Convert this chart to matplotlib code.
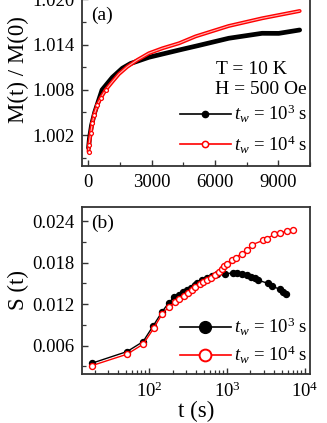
import matplotlib
matplotlib.use("Agg")
import matplotlib.pyplot as plt
from matplotlib.ticker import MultipleLocator, LogLocator, NullFormatter, FuncFormatter

plt.rcParams['font.family'] = ['Liberation Serif', 'DejaVu Serif']
plt.rcParams['mathtext.fontset'] = 'custom'
plt.rcParams['mathtext.rm'] = 'Liberation Serif'
plt.rcParams['mathtext.it'] = 'Liberation Serif:italic'

# ---- panel (a): M(t)/M(0) vs t ----
ta_1e3 = [10, 50, 150, 300, 650, 1140, 1610, 2000, 2870, 3660, 4450, 5160,
          6650, 8230, 9020, 10010]
Ma_1e3 = [1.0003, 1.0015, 1.0033, 1.0050, 1.0080, 1.00967, 1.01087, 1.0115,
          1.01233, 1.01286, 1.01339, 1.01385, 1.01485, 1.01551, 1.0155, 1.01595]
ta_1e4 = [10, 30, 110, 190, 270, 430, 580, 820, 1140, 1450, 1850, 2320, 2870,
          3510, 4300, 5080, 6650, 8230, 10010]
Ma_1e4 = [0.9998, 1.00069, 1.00224, 1.00357, 1.00467, 1.0060, 1.00689, 1.00799,
          1.00909, 1.01011, 1.01108, 1.01197, 1.01286, 1.01352, 1.01419, 1.0151,
          1.01648, 1.0175, 1.01847]

# ---- panel (b): S(t) vs t ----
tb_1e3 = [18.6, 52.2, 83.8, 112.6, 146.8, 178.9, 207.4, 240.4, 270.4, 307, 345,
          392, 409, 474, 550, 637, 738, 943, 1205, 1331, 1542, 1789, 2031, 2285,
          2518, 3383, 3738, 4775, 5268, 5702]
Sb_1e3 = [0.00347, 0.00514, 0.00658, 0.00883, 0.01089, 0.01219, 0.01296, 0.01334,
          0.01373, 0.01402, 0.01435, 0.01473, 0.01498, 0.01545, 0.01584, 0.01613,
          0.01632, 0.01632, 0.01656, 0.0165, 0.01642, 0.01622, 0.01593, 0.0157,
          0.01545, 0.01498, 0.01463, 0.01412, 0.01377, 0.01344]
tb_1e4 = [18.6, 52.2, 83.8, 114.8, 146.8, 178.9, 213.5, 244.5, 278.4, 316, 356,
          392, 451, 497, 550, 624, 702, 789, 855, 923, 990, 1169, 1293, 1542, 1789,
          2108, 2917, 3226, 4036, 4775, 5821, 7079]
Sb_1e4 = [0.00312, 0.00476, 0.0062, 0.0085, 0.01056, 0.01161, 0.01225, 0.01268,
          0.01315, 0.01354, 0.01402, 0.0144, 0.01488, 0.01521, 0.01545, 0.01584,
          0.01617, 0.01665, 0.01714, 0.01751, 0.01786, 0.01833, 0.01872, 0.0193,
          0.01977, 0.02059, 0.02121, 0.02145, 0.02207, 0.02226, 0.02255, 0.02265]

lab_1e3 = r'$t_w$ = 10$^3$ s'
lab_1e4 = r'$t_w$ = 10$^4$ s'

W, H = 327, 423
fig = plt.figure(figsize=(W / 100, H / 100), dpi=100)

def frac(x0, y0, x1, y1):
    return [x0 / W, 1 - y1 / H, (x1 - x0) / W, (y1 - y0) / H]

spine_col = '#333333'
fs_tick = 13.5
fs_lab = 16.5

def style(ax):
    for s in ax.spines.values():
        s.set_color(spine_col)
        s.set_linewidth(1.3)
    ax.tick_params(which='both', direction='in', top=False, right=False,
                   labelsize=fs_tick, color=spine_col)
    ax.tick_params(which='major', length=4.5, width=1.0, pad=5.5)
    ax.tick_params(which='minor', length=2.8, width=0.9)

# panel (a)
axa = fig.add_axes(frac(82, -26, 310, 166))
axa.plot(ta_1e3, Ma_1e3, '-', color='black', lw=3.4, solid_capstyle='round')
axa.plot(ta_1e4, Ma_1e4, '-', color='red', lw=2.8, solid_capstyle='round')
axa.plot(ta_1e4, Ma_1e4, '-', color='#ffb0b0', lw=0.8)
axa.plot(ta_1e4[:8], Ma_1e4[:8], 'o', mfc='white', mec='red', ms=2.8, mew=0.9)
axa.set_xlim(-300, 10500)
axa.set_ylim(0.9979, 1.02338)
axa.xaxis.set_major_locator(MultipleLocator(3000))
axa.xaxis.set_minor_locator(MultipleLocator(1500))
axa.yaxis.set_major_locator(MultipleLocator(0.006))
axa.yaxis.set_minor_locator(MultipleLocator(0.003))
axa.yaxis.set_major_formatter(FuncFormatter(lambda v, p: f'{v:.3f}'))
style(axa)
axa.set_ylabel('M(t) / M(0)', fontsize=fs_lab, labelpad=2)
fig.text(91 / W, 1 - 15 / H, '(a)', fontsize=14, va='center')
fig.text(251 / W, 1 - 69 / H, 'T = 10 K', fontsize=14, ha='center', va='center')
fig.text(261 / W, 1 - 90 / H, 'H = 500 Oe', fontsize=14, ha='center', va='center')
h1, = axa.plot([], [], '-o', color='black', mfc='black', mec='black', ms=4.5, lw=1.2)
h2, = axa.plot([], [], '-o', color='red', mfc='white', mec='red', ms=4.5, mew=1.1, lw=1.2)
axa.legend([h1, h2], [lab_1e3, lab_1e4], loc='lower right', bbox_to_anchor=(1.045, -0.015),
           frameon=False, fontsize=13.5, handlelength=2.7, handletextpad=0.15,
           labelspacing=0.45, borderaxespad=0.3)

# panel (b)
axb = fig.add_axes(frac(82, 206.5, 310, 374))
axb.plot(tb_1e3, Sb_1e3, '-o', color='black', mfc='black', mec='black', ms=4.3, lw=1.0)
axb.plot(tb_1e4, Sb_1e4, '-o', color='red', mfc='white', mec='red', ms=4.3, mew=1.0, lw=1.0)
axb.set_xscale('log')
axb.set_xlim(13.8, 11600)
axb.set_ylim(0.0019, 0.0261)
axb.yaxis.set_major_locator(MultipleLocator(0.006))
axb.yaxis.set_minor_locator(MultipleLocator(0.003))
axb.yaxis.set_major_formatter(FuncFormatter(lambda v, p: f'{v:.3f}'))
axb.xaxis.set_major_locator(LogLocator(base=10, numticks=10))
axb.xaxis.set_minor_locator(LogLocator(base=10, subs=range(2, 10), numticks=20))
axb.xaxis.set_minor_formatter(NullFormatter())
style(axb)
axb.set_ylabel('S (t)', fontsize=fs_lab, labelpad=2)
axb.set_xlabel('t (s)', fontsize=fs_lab, labelpad=0)
axb.text(0.04, 0.90, '(b)', transform=axb.transAxes, fontsize=14, va='center')
g1, = axb.plot([], [], '-o', color='black', mfc='black', mec='black', ms=8.5, lw=1.2)
g2, = axb.plot([], [], '-o', color='red', mfc='white', mec='red', ms=8.5, mew=1.4, lw=1.2)
axb.legend([g1, g2], [lab_1e3, lab_1e4], loc='lower right', bbox_to_anchor=(1.045, -0.03),
           frameon=False, fontsize=13.5, handlelength=2.7, handletextpad=0.15,
           labelspacing=0.3, borderaxespad=0.3)

fig.savefig('out.png', dpi=100)
